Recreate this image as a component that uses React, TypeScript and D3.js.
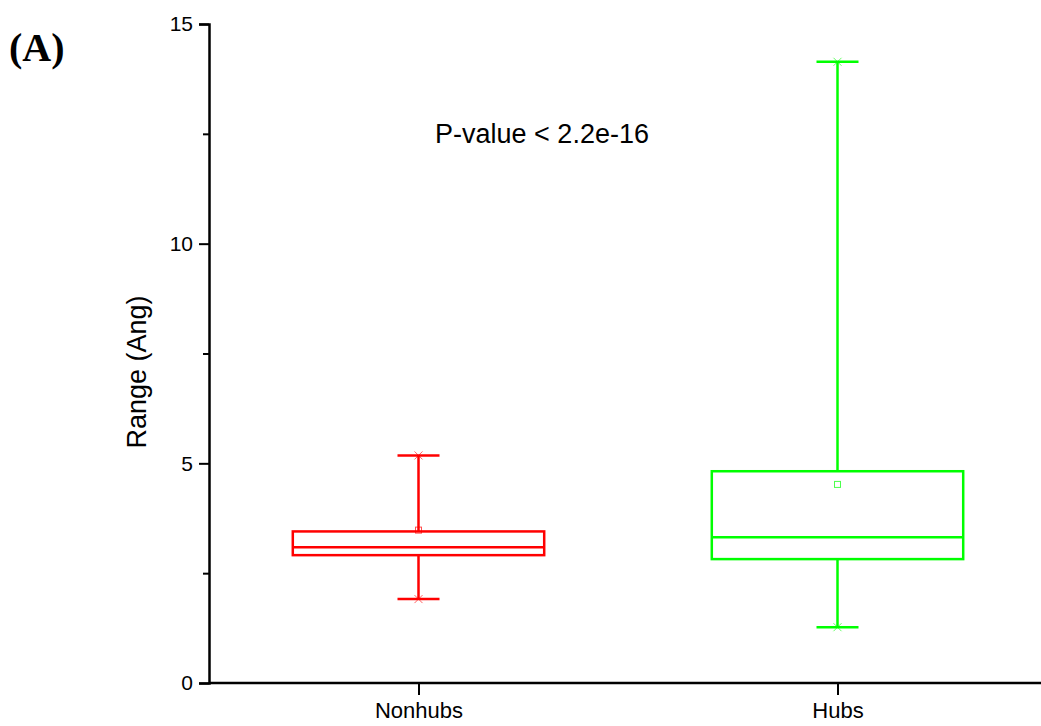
import React, { useEffect, useRef } from "react";
import * as d3 from "d3";

// box statistics (Ang)
const categories = ["Nonhubs", "Hubs"];
const colors = ["#ff0000", "#00ff00"];
const minVals = [1.91, 1.27];
const q1Vals = [2.91, 2.82];
const medianVals = [3.09, 3.32];
const q3Vals = [3.45, 4.82];
const maxVals = [5.18, 14.14];
const meanVals = [3.48, 4.52];
const majorTicks = [0, 5, 10, 15];
const minorTicks = [2.5, 7.5, 12.5];

export default function App() {
  const ref = useRef<SVGSVGElement>(null);

  useEffect(() => {
    const width = 1041;
    const height = 726;
    const margin = { top: 24, right: -6, bottom: 43, left: 209 };

    const svg = d3.select(ref.current).attr("viewBox", [0, 0, width, height]);
    svg.selectAll("*").remove();

    const x = d3.scalePoint()
      .domain(categories)
      .range([margin.left, width - margin.right])
      .padding(0.5);
    const y = d3.scaleLinear()
      .domain([0, 15])
      .range([height - margin.bottom, margin.top]);

    const boxW = x.step() * 0.6;
    const capW = 42;
    const font = "Arial, 'Liberation Sans', sans-serif";

    const data = categories.map((c, i) => ({
      c, color: colors[i], min: minVals[i], q1: q1Vals[i], med: medianVals[i],
      q3: q3Vals[i], max: maxVals[i], mean: meanVals[i],
    }));

    const g = svg.append("g");
    const box = g.selectAll("g.box").data(data).join("g").attr("class", "box");

    // whiskers
    box.append("line")
      .attr("x1", d => x(d.c)!).attr("x2", d => x(d.c)!)
      .attr("y1", d => y(d.max)).attr("y2", d => y(d.q3))
      .attr("stroke", d => d.color).attr("stroke-width", 2.5);
    box.append("line")
      .attr("x1", d => x(d.c)!).attr("x2", d => x(d.c)!)
      .attr("y1", d => y(d.q1)).attr("y2", d => y(d.min))
      .attr("stroke", d => d.color).attr("stroke-width", 2.5);
    for (const key of ["max", "min"] as const) {
      box.append("line")
        .attr("x1", d => x(d.c)! - capW / 2).attr("x2", d => x(d.c)! + capW / 2)
        .attr("y1", d => y(d[key])).attr("y2", d => y(d[key]))
        .attr("stroke", d => d.color).attr("stroke-width", 2.5);
      box.append("path")
        .attr("d", d => {
          const cx = x(d.c)!, cy = y(d[key]), s = 4;
          return `M${cx - s},${cy - s}L${cx + s},${cy + s}M${cx - s},${cy + s}L${cx + s},${cy - s}`;
        })
        .attr("stroke", d => d.color).attr("stroke-width", 1).attr("opacity", 0.6);
    }

    // box
    box.append("rect")
      .attr("x", d => x(d.c)! - boxW / 2).attr("width", boxW)
      .attr("y", d => y(d.q3)).attr("height", d => y(d.q1) - y(d.q3))
      .attr("fill", "white").attr("stroke", d => d.color).attr("stroke-width", 2.5);
    box.append("line")
      .attr("x1", d => x(d.c)! - boxW / 2).attr("x2", d => x(d.c)! + boxW / 2)
      .attr("y1", d => y(d.med)).attr("y2", d => y(d.med))
      .attr("stroke", d => d.color).attr("stroke-width", 2.5);
    // mean marker
    box.append("rect")
      .attr("x", d => x(d.c)! - 3).attr("y", d => y(d.mean) - 3)
      .attr("width", 6).attr("height", 6)
      .attr("fill", "none").attr("stroke", d => d.color).attr("stroke-width", 1).attr("opacity", 0.7);

    // axes
    const yAxis = g.append("g")
      .attr("transform", `translate(${margin.left},0)`)
      .call(d3.axisLeft(y).tickValues(majorTicks).tickSize(10).tickPadding(6).tickFormat(d3.format("d")));
    g.append("g")
      .attr("transform", `translate(${margin.left},0)`)
      .call(d3.axisLeft(y).tickValues(minorTicks).tickSize(6).tickFormat(() => ""))
      .call(a => a.select(".domain").remove())
      .selectAll("line").attr("stroke-width", 2);
    const xAxis = g.append("g")
      .attr("transform", `translate(0,${height - margin.bottom})`)
      .call(d3.axisBottom(x).tickSize(12).tickPadding(7));

    for (const ax of [yAxis, xAxis]) {
      ax.select(".domain").attr("stroke-width", 2.5);
      ax.selectAll(".tick line").attr("stroke-width", 2);
      ax.selectAll("text").attr("font-family", font).attr("fill", "black");
    }
    yAxis.selectAll("text").attr("font-size", 21);
    xAxis.selectAll("text").attr("font-size", 22);
    xAxis.select(".domain").attr("d", `M${margin.left},0H${width}`);

    // labels
    svg.append("text")
      .attr("transform", `translate(146,372) rotate(-90)`)
      .attr("text-anchor", "middle")
      .attr("font-family", font).attr("font-size", 27)
      .text("Range (Ang)");
    svg.append("text")
      .attr("x", 542).attr("y", 143)
      .attr("text-anchor", "middle")
      .attr("font-family", font).attr("font-size", 27)
      .text("P-value < 2.2e-16");
    svg.append("text")
      .attr("x", 9).attr("y", 61)
      .attr("font-family", "'Liberation Serif', 'Times New Roman', serif")
      .attr("font-weight", "bold").attr("font-size", 40)
      .text("(A)");
  }, []);

  return (
    <svg
      ref={ref}
      width={1041}
      height={726}
      style={{ position: "absolute", left: 0, top: 0, background: "white" }}
    />
  );
}
